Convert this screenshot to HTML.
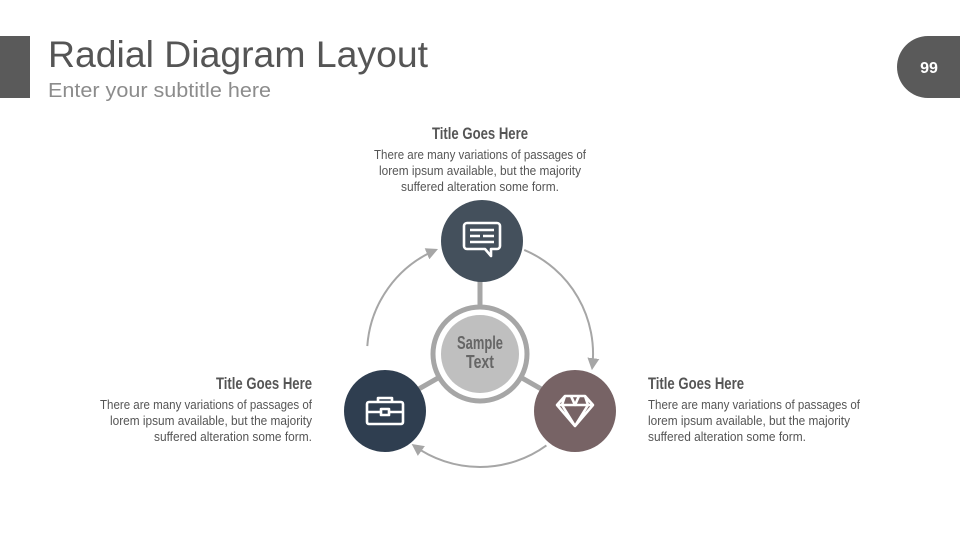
<!DOCTYPE html>
<html><head><meta charset="utf-8"><style>
body{margin:0;background:#fff;}
svg{display:block;}
.t{font-family:"Liberation Sans Narrow","Liberation Sans",sans-serif;}
</style></head><body>
<svg width="960" height="540" viewBox="0 0 960 540" xmlns="http://www.w3.org/2000/svg">
<defs>
<marker id="ar" viewBox="0 0 10 10" refX="8" refY="5" markerWidth="6" markerHeight="6" orient="auto" markerUnits="strokeWidth">
<path d="M0,0 L10,5 L0,10 z" fill="#a6a6a6"/>
</marker>
</defs>
<rect x="0" y="36" width="30" height="62" fill="#5a5a5a"/>
<text x="48" y="67" font-family="Liberation Sans,sans-serif" font-size="37" fill="#555" textLength="380" lengthAdjust="spacingAndGlyphs">Radial Diagram Layout</text>
<text x="48" y="97" font-family="Liberation Sans,sans-serif" font-size="20" fill="#8c8c8c" textLength="223" lengthAdjust="spacingAndGlyphs">Enter your subtitle here</text>
<path d="M928,36 H960 V98 H928 A31,31 0 0 1 928,36 Z" fill="#5a5a5a"/>
<text x="929" y="73" text-anchor="middle" font-family="Liberation Sans,sans-serif" font-weight="bold" font-size="16" fill="#fff">99</text>

<g fill="none" stroke="#a6a6a6" stroke-width="2">
<path d="M524.2,249.9 A113,113 0 0 1 592.2,367.8" marker-end="url(#ar)"/>
<path d="M546.4,445.4 A113,113 0 0 1 413.6,445.4" marker-end="url(#ar)"/>
<path d="M367.3,346.1 A113,113 0 0 1 435.8,250.0" marker-end="url(#ar)"/>
</g>
<g stroke="#a6a6a6" stroke-width="5">
<line x1="480" y1="354" x2="480" y2="241"/>
<line x1="480" y1="354" x2="382" y2="410"/>
<line x1="480" y1="354" x2="578" y2="410"/>
</g>
<circle cx="480" cy="354" r="47" fill="#fff" stroke="#a6a6a6" stroke-width="5"/>
<circle cx="480" cy="354" r="39" fill="#bfbfbf"/>
<text class="t" x="480" y="349" text-anchor="middle" font-weight="bold" font-size="18" fill="#666" textLength="46" lengthAdjust="spacingAndGlyphs">Sample</text>
<text class="t" x="480" y="368" text-anchor="middle" font-weight="bold" font-size="18" fill="#666" textLength="28" lengthAdjust="spacingAndGlyphs">Text</text>

<circle cx="482" cy="241" r="41" fill="#44505c"/>
<circle cx="385" cy="411" r="41" fill="#2f3e50"/>
<circle cx="575" cy="411" r="41" fill="#776365"/>

<g fill="none" stroke="#fff" stroke-width="2.6" stroke-linejoin="round">
<path d="M467,223 h30 a3,3 0 0 1 3,3 v20 a3,3 0 0 1 -3,3 h-6 l0,7 l-6,-7 h-18 a3,3 0 0 1 -3,-3 v-20 a3,3 0 0 1 3,-3 z"/>
<path d="M470,230 h24 M470,236 h10 M483,236 h11 M470,242 h24"/>
<rect x="367" y="402" width="36" height="22" rx="2"/>
<path d="M378,402 v-4 h14 v4 M367,412 h14 M389,412 h14"/>
<rect x="381" y="409" width="8" height="6"/>
<path d="M565,396 h20 l8,9 l-18,21 l-18,-21 z M557,405 h36 M565,396 l-3,9 l13,21 l13,-21 l-3,-9 M571,396 l4,9 l4,-9"/>
</g>

<g class="t" fill="#555">
<text x="480" y="139" text-anchor="middle" font-weight="bold" font-size="16.5" textLength="96" lengthAdjust="spacingAndGlyphs">Title Goes Here</text>
<text x="480" y="159" text-anchor="middle" font-size="12.5" textLength="212" lengthAdjust="spacingAndGlyphs">There are many variations of passages of</text>
<text x="480" y="175" text-anchor="middle" font-size="12.5" textLength="202" lengthAdjust="spacingAndGlyphs">lorem ipsum available, but the majority</text>
<text x="480" y="191" text-anchor="middle" font-size="12.5" textLength="158" lengthAdjust="spacingAndGlyphs">suffered alteration some form.</text>

<text x="312" y="389" text-anchor="end" font-weight="bold" font-size="16.5" textLength="96" lengthAdjust="spacingAndGlyphs">Title Goes Here</text>
<text x="312" y="409" text-anchor="end" font-size="12.5" textLength="212" lengthAdjust="spacingAndGlyphs">There are many variations of passages of</text>
<text x="312" y="425" text-anchor="end" font-size="12.5" textLength="202" lengthAdjust="spacingAndGlyphs">lorem ipsum available, but the majority</text>
<text x="312" y="441" text-anchor="end" font-size="12.5" textLength="158" lengthAdjust="spacingAndGlyphs">suffered alteration some form.</text>

<text x="648" y="389" font-weight="bold" font-size="16.5" textLength="96" lengthAdjust="spacingAndGlyphs">Title Goes Here</text>
<text x="648" y="409" font-size="12.5" textLength="212" lengthAdjust="spacingAndGlyphs">There are many variations of passages of</text>
<text x="648" y="425" font-size="12.5" textLength="202" lengthAdjust="spacingAndGlyphs">lorem ipsum available, but the majority</text>
<text x="648" y="441" font-size="12.5" textLength="158" lengthAdjust="spacingAndGlyphs">suffered alteration some form.</text>
</g>
</svg>
</body></html>
